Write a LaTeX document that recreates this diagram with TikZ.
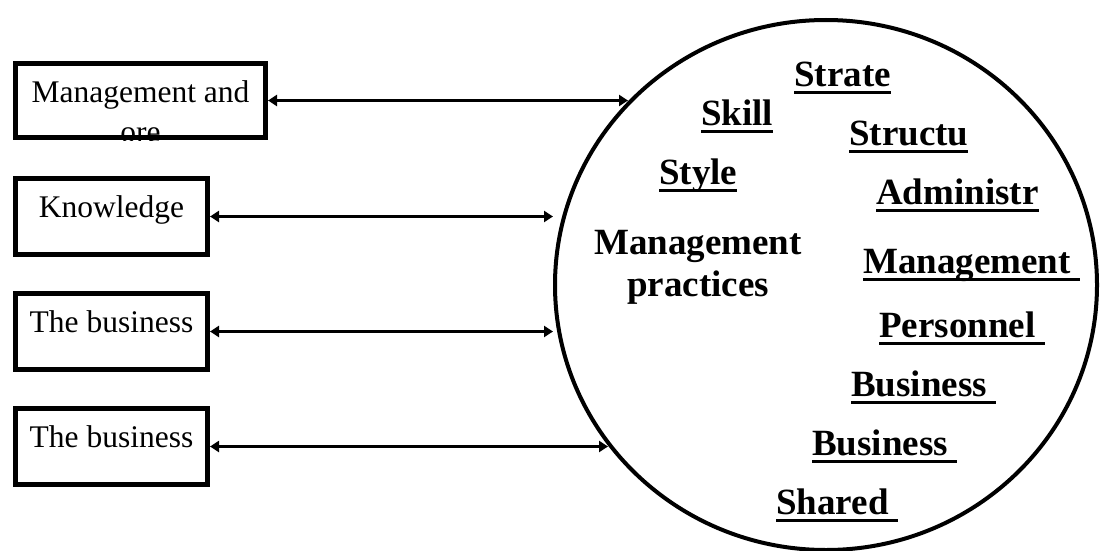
\documentclass[tikz,border=0pt]{standalone}
\usepackage{fontspec}
\setmainfont{Liberation Serif}
\usetikzlibrary{shapes.geometric,arrows.meta}
\newsavebox\ulsave
\newcommand\ulword[1]{\sbox\ulsave{#1}\rlap{\vrule height -4.5pt depth 8pt width \wd\ulsave}\usebox\ulsave}
\tikzset{
  box/.style={draw, line width=5pt, rectangle, inner sep=0pt, minimum width=192pt,
    text height=39pt, text depth=37pt, font=\fontsize{31.5}{36}\selectfont},
  arr/.style={line width=3.5pt, {Triangle[length=9pt,width=11pt]}-{Triangle[length=9pt,width=11pt]}},
  lab/.style={anchor=base west, inner sep=0pt, font=\bfseries\fontsize{37}{42}\selectfont},
  rim/.style={draw, ellipse, line width=4pt, inner sep=0pt, minimum width=542pt, minimum height=530pt}
}
\begin{document}
\begin{tikzpicture}[x=1pt,y=-1pt]
\useasboundingbox (0,0) rectangle (1100,551);
% circle
\node[rim] (ell) at (826,285) {};
% boxes
\node[box, minimum width=250pt, text depth=35pt] (b1) at (140.5,100.5) {Management and};
\begin{scope}
  \clip (b1.south west) rectangle (b1.north east);
  \node[anchor=base, inner sep=0pt, font=\fontsize{31.5}{36}\selectfont] (b1b) at (140.5,142) {ore};
\end{scope}
\node[box] (b2) at (111.5,216.5) {Knowledge};
\node[box] (b3) at (111.5,331.5) {The business};
\node[box] (b4) at (111.5,446.5) {The business};
% arrow ends on the circle
\coordinate (e1) at (628,100.5);
\coordinate (e4) at (608,446.5);
\draw[arr] (b1.east) -- (e1);
\draw[arr] (b2.east) -- (b2.east -| ell.west);
\draw[arr] (b3.east) -- (b3.east -| ell.west);
\draw[arr] (b4.east) -- (e4);
% labels inside circle
\node[lab] (l1) at (794,86) {\ulword{Strate}};
\node[lab] (l2) at (701,125) {\ulword{Skill}};
\node[lab] (l3) at (849,145) {\ulword{Structu}};
\node[lab] (l4) at (659,184) {\ulword{Style}};
\node[lab] (l5) at (876,204) {\ulword{Administr}};
\node[lab] (l6) at (863,273) {\ulword{Management\ }};
\node[lab] (l7) at (879,337) {\ulword{Personnel\ }};
\node[lab] (l8) at (851,396) {\ulword{Business\ }};
\node[lab] (l9) at (812,455) {\ulword{Business\ }};
\node[lab] (l10) at (776,514) {\ulword{Shared\ }};
\node[inner sep=0pt, anchor=base, align=center, font=\bfseries\fontsize{37}{42}\selectfont] (mp) at (698,296) {Management\\practices};
\end{tikzpicture}
\end{document}
